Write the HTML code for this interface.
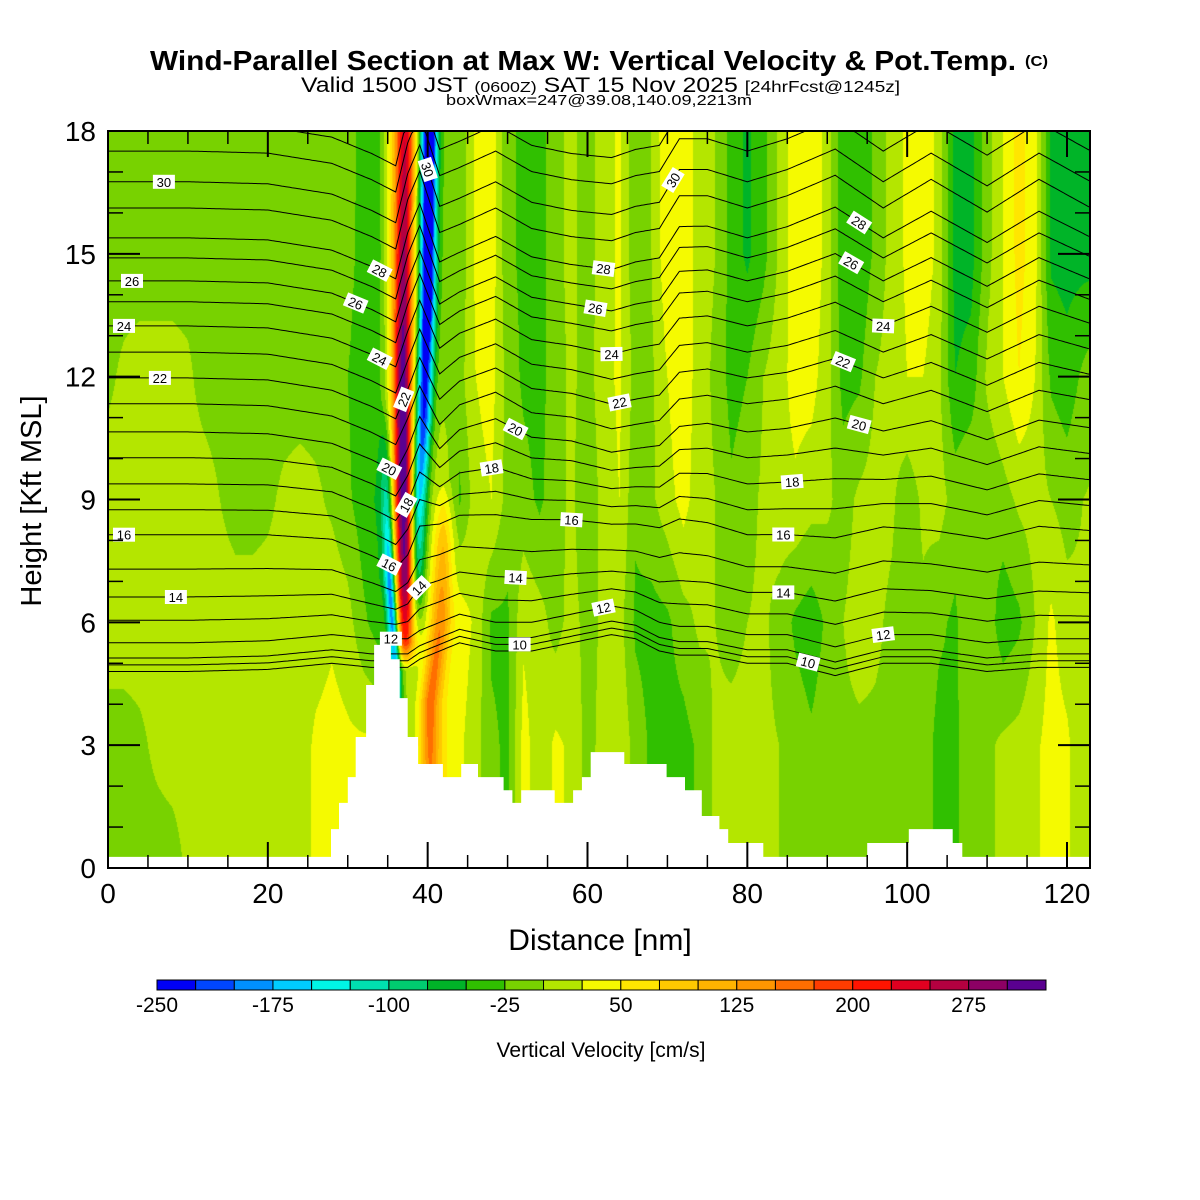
<!DOCTYPE html>
<html><head><meta charset="utf-8">
<style>
body{margin:0;background:#fff;}
#wrap{position:relative;width:1200px;height:1200px;overflow:hidden;background:#fff;font-family:"Liberation Sans",Arial,sans-serif;}
#field{position:absolute;left:108px;top:131px;}
#svg{position:absolute;left:0;top:0;}
</style></head>
<body>
<div id="wrap">
<canvas id="field" width="982" height="737"></canvas>
<svg id="svg" width="1200" height="1200" xmlns="http://www.w3.org/2000/svg">
  <g id="contours"></g>
  <g id="terrain"></g>
  <g id="clabels"></g>
  <g id="axes"></g>
  <g id="cbar"></g>
  <g font-family="Liberation Sans, Arial, sans-serif" font-weight="bold">
    <text x="150" y="70" font-size="28" textLength="866" lengthAdjust="spacingAndGlyphs">Wind-Parallel Section at Max W: Vertical Velocity &amp; Pot.Temp.</text>
    <text x="1025" y="66" font-size="15" textLength="23" lengthAdjust="spacingAndGlyphs">(C)</text>
    <text x="301" y="92" font-size="21" font-weight="normal" textLength="599" lengthAdjust="spacingAndGlyphs">Valid 1500 JST <tspan font-size="15">(0600Z)</tspan> SAT 15 Nov 2025 <tspan font-size="16">[24hrFcst@1245z]</tspan></text>
    <text x="446" y="105" font-size="15" font-weight="normal" textLength="306" lengthAdjust="spacingAndGlyphs">boxWmax=247@39.08,140.09,2213m</text>
  </g>
  <text x="600" y="950" font-size="30" text-anchor="middle">Distance [nm]</text>
  <text x="0" y="0" font-size="29" text-anchor="middle" transform="translate(41,501) rotate(-90)">Height [Kft MSL]</text>
  <text x="601" y="1057" font-size="21" text-anchor="middle">Vertical Velocity [cm/s]</text>
</svg>
</div>
<script>
// ---------------- data ----------------
const levelColors = ["#0000f5","#0046ff","#0090ff","#00ccff","#00f5e6","#00e0b0","#00cc70","#00b428","#30c000","#78d200","#b4e600","#f5fa00","#ffe600","#ffc800","#ffb400","#ff9600","#ff6e00","#ff3c00","#ff1400","#e00020","#b40040","#8c0064","#5a0090"];
const levelMin = -250, levelStep = 25;
const colorbarLabels = [-250,-175,-100,-25,50,125,200,275];

// w grid (cm/s): columns x = 0,2,...,124 nm ; rows at heights below (kft)
const gridHeights = [0,3,6,9,12,15,18];
const w0  = [-12,-12,-12,-12,-12,5,12,12,12,12,12,12,12,30,35,30,30,30,20,10,40,50,30,10,-20,-30,35,10,30,20,-10,10,20,-10,-30,-35,-35,-20,5,10,10,5,0,-10,-20,-10,-5,-5,-5,-5,-10,-10,-35,-30,-10,-5,5,10,20,35,30,5,5];
const w3  = [-10,-10,-5,5,12,12,12,12,12,12,12,12,12,30,35,30,30,30,20,10,40,50,30,10,-20,-30,35,10,30,20,-10,10,20,-10,-30,-35,-35,-20,5,10,10,5,0,-10,-20,-10,-5,-5,-5,-5,-10,-10,-35,-30,-10,-5,5,10,20,35,30,5,5];
const w6  = [12,12,12,12,12,12,12,12,12,12,12,12,12,12,20,10,-20,-40,0,0,30,40,40,20,-30,-30,20,10,-10,10,-10,5,10,-30,-35,-30,-10,5,0,-10,0,5,-10,-30,-40,-20,0,10,5,-5,-10,-5,-20,-30,0,-10,-40,-30,0,30,10,5,5];
const w9  = [12,12,12,12,12,12,12,0,-10,-10,-5,5,10,5,-5,-20,-40,-55,0,0,0,20,-30,15,25,-10,-15,-30,-10,5,-20,10,25,-20,-5,15,35,10,0,-20,-10,5,15,20,10,5,-10,5,10,5,-15,5,10,-10,0,-20,-10,5,10,0,-10,0,5];
const w12 = [-5,5,10,10,10,5,-10,-12,-12,-12,-12,-12,-12,-12,-12,-25,-40,-30,0,0,0,-10,-10,25,35,-10,-30,-35,-10,5,-10,15,30,-10,-5,25,45,10,-5,-35,-25,0,15,35,35,10,-35,-30,0,10,25,25,5,-50,-40,5,25,50,25,-30,-40,-20,-5];
const w15 = [-12,-12,-12,-12,-12,-12,-12,-12,-12,-12,-12,-12,-12,-12,-12,-15,-37,-37,0,0,0,-15,-20,30,40,-20,-30,-40,-5,5,-10,10,30,-20,0,45,50,10,0,-35,-55,-35,5,40,45,15,-45,-45,-20,10,30,45,15,-60,-60,-10,25,60,35,-55,-60,-60,-60];
const w18 = [-12,-12,-12,-12,-12,-12,-12,-12,-12,-12,-12,-12,-12,-12,-12,-12,-37,-37,0,0,0,-15,-20,30,40,-20,-30,-40,-5,5,-10,10,30,-20,0,50,50,10,0,-35,-55,-35,5,40,45,15,-45,-45,-20,10,30,45,15,-60,-60,-10,25,60,35,-55,-60,-60,-60];
const wRows = [w0,w3,w6,w9,w12,w15,w18];

// slanted wave features: [height kft, centre x nm, amplitude cm/s]
const redStripe    = [[4.8,37.2,0],[5.5,37.2,200],[7,37.2,300],[9,37.0,320],[11,36.9,320],[14,37.0,280],[18,37.2,240]];
const blueStripeR  = [[5.5,38.6,0],[7,38.7,-120],[9,38.9,-170],[11,39.5,-230],[14,40.0,-290],[18,40.2,-320]];
const blueStripeL  = [[4,36.2,-150],[5.5,35.8,-220],[7,35.3,-200],[8.5,35.0,-120],[10,34.8,-60],[11.5,34.8,0]];
const orangeLow    = [[1.5,40.3,0],[2.5,40.3,110],[4,40.3,130],[6,41.6,110],[8,41.9,70],[9.5,42.0,0]];
const yellowHalo   = [[5,35.9,0],[9,35.8,15],[14,35.6,40],[18,35.5,50]];
const features = [[redStripe,1.2],[blueStripeR,1.0],[blueStripeL,0.7],[orangeLow,1.2],[yellowHalo,1.2]];

// terrain steps: [start nm, height kft]
const terrain = [[0,0.27],[27.9,0.95],[28.9,1.59],[30.0,2.22],[31.0,3.2],[32.3,4.47],[33.3,5.45],[35.4,5.1],[36.5,4.15],[37.5,3.2],[38.8,2.54],[41.9,2.22],[44.2,2.54],[46.3,2.22],[49.5,1.9],[50.6,1.59],[51.7,1.9],[55.9,1.59],[58.2,1.9],[59.3,2.22],[60.4,2.83],[64.6,2.54],[69.9,2.22],[72.2,1.9],[74.3,1.27],[76.5,0.95],[77.6,0.61],[82.0,0.27],[95.0,0.61],[100.2,0.95],[105.7,0.61],[106.9,0.27]];

// theta contours: level values and their heights at x=0
const thetaLevels = [9,10,11,12,13,14,15,16,17,18,19,20,21,22,23,24,25,26,27,28,29,30,31,32];
const thetaBase   = [4.8,4.96,5.13,5.5,6.05,6.62,7.3,8.14,8.75,9.38,10.02,10.65,11.34,11.97,12.6,13.24,13.83,14.34,14.9,15.39,16.12,16.76,17.51,18.15];
const dispX  = [0,10,20,28,33,36,37.5,39,41.5,44,48.5,53,58,63,66,69,71.5,75,80,85,91,97,103,110,116.5,123];
const disp5  = [0,0,0.05,0.2,0.1,0.1,0.1,0.3,0.5,0.7,0.5,0.5,0.7,0.9,0.8,0.5,0.4,0.4,0.2,0.2,-0.1,0.2,0.2,0.0,0.1,0.1];
const disp8  = [0,0,0,-0.1,-0.5,-0.8,-0.5,0.2,0.3,0.5,0.5,0.4,0.4,0.3,0.3,0.2,0.4,0.3,0.0,0.0,-0.1,0.2,0.1,-0.1,0.2,0.1];
const disp11 = [0,0,-0.05,-0.3,-0.7,-1.0,-0.4,0.4,-0.5,0.0,0.3,-0.2,-0.3,-0.6,-0.5,-0.4,0.1,0.2,0.0,0.1,0.4,0.0,0.3,-0.2,0.3,0.1];
const disp16 = [0,0,-0.05,-0.3,-0.7,-1.0,0.2,0.9,-0.6,-0.4,0.0,-0.5,-0.7,-0.8,-0.6,-0.5,0.3,0.3,0.0,0.3,0.8,0.0,0.7,-0.1,0.7,0.0];
const dispRefH = [5.5,8,11,16];
// contour labels: [level, x nm]
const contourLabels = [[30,7],[26,3],[24,2],[22,6.5],[16,2],[14,8.5],[28,34],[26,31],[24,34],[22,37],[20,35.2],[18,37.3],[16,35.2],[14,38.9],[12,35.4],[30,40],[30,70.7],[28,62],[26,61],[24,63],[22,64],[20,51],[18,48],[16,58],[14,51],[12,62],[10,51.5],[28,94],[26,93],[24,97],[22,92],[20,94],[18,85.6],[16,84.5],[14,84.5],[12,97],[10,87.6]];
const xTicks = [0,20,40,60,80,100,120];
const yTicks = [0,3,6,9,12,15,18];

// ---------------- scales ----------------
const X = nm => 108 + nm*7.9917;
const Y = k => 868 - k*40.944;
const NS = "http://www.w3.org/2000/svg";
function mk(tag, attrs, parent){ const e=document.createElementNS(NS,tag); for(const k in attrs) e.setAttribute(k,attrs[k]); parent.appendChild(e); return e; }
function interp1(xa, ya, x){
  if(x<=xa[0]) return ya[0];
  for(let i=1;i<xa.length;i++){ if(x<=xa[i]){ const f=(x-xa[i-1])/(xa[i]-xa[i-1]); return ya[i-1]+f*(ya[i]-ya[i-1]); } }
  return ya[ya.length-1];
}
function gridW(nm,h){
  let c=nm/2; if(c<0)c=0; if(c>61.999)c=61.999; const c0=Math.floor(c), cf=c-c0;
  let r=h/3; if(r<0)r=0; if(r>5.999)r=5.999; const r0=Math.floor(r), rf=r-r0;
  const a=wRows[r0][c0]*(1-cf)+wRows[r0][c0+1]*cf;
  const b=wRows[r0+1][c0]*(1-cf)+wRows[r0+1][c0+1]*cf;
  return a*(1-rf)+b*rf;
}
function featureW(nm,h){
  let s=0;
  for(const [pts,hw] of features){
    if(h<pts[0][0]||h>pts[pts.length-1][0]) continue;
    const hs=pts.map(p=>p[0]);
    const xc=interp1(hs,pts.map(p=>p[1]),h), amp=interp1(hs,pts.map(p=>p[2]),h);
    const d=(nm-xc)/hw; s+=amp*Math.exp(-d*d);
  }
  return s;
}
function hex(c){return [parseInt(c.substr(1,2),16),parseInt(c.substr(3,2),16),parseInt(c.substr(5,2),16)];}
const rgb = levelColors.map(hex);

// ---------------- field ----------------
(function(){
  const cv=document.getElementById('field'), ctx=cv.getContext('2d');
  const W=cv.width,H=cv.height, im=ctx.createImageData(W,H);
  for(let py=0;py<H;py++){
    const h=18-(py+0.5)/40.944;
    for(let px=0;px<W;px++){
      const nm=(px+0.5)/7.9917;
      const w=gridW(nm,h)+featureW(nm,h);
      let k=Math.floor((w-levelMin)/levelStep); if(k<0)k=0; if(k>22)k=22;
      const c=rgb[k], o=(py*W+px)*4;
      im.data[o]=c[0]; im.data[o+1]=c[1]; im.data[o+2]=c[2]; im.data[o+3]=255;
    }
  }
  ctx.putImageData(im,0,0);
})();

// ---------------- contours ----------------
const dispArrs=[disp5,disp8,disp11,disp16];
function lineH(base,nm){
  const d=dispArrs.map(a=>interp1(dispX,a,nm));
  return base+interp1(dispRefH,d,base);
}
const gC=document.getElementById('contours');
thetaLevels.forEach((lv,i)=>{
  let d='';
  for(let nm=0;nm<=122.9;nm+=0.25){ const y=Math.max(131,Y(lineH(thetaBase[i],nm))); d+=(nm===0?'M':'L')+X(nm).toFixed(1)+','+y.toFixed(1); }
  const p=mk('path',{d:d,fill:'none',stroke:'#000','stroke-width':1},gC);
  
  
});

// ---------------- terrain ----------------
(function(){
  const g=document.getElementById('terrain');
  let d='M'+X(0)+','+Y(0);
  terrain.forEach((s,i)=>{ const x0=X(s[0]), x1=i<terrain.length-1?X(terrain[i+1][0]):1090; d+='L'+x0.toFixed(1)+','+Y(s[1]).toFixed(1)+'L'+x1.toFixed(1)+','+Y(s[1]).toFixed(1); });
  d+='L1090,'+Y(0)+'Z';
  const p=mk('path',{d:d,fill:'#fff',stroke:'none'},g);
  
  
})();

// ---------------- contour labels ----------------
(function(){
  const g=document.getElementById('clabels');
  contourLabels.forEach(([lv,nm])=>{
    const i=thetaLevels.indexOf(lv); if(i<0) return;
    const b=thetaBase[i];
    const x=X(nm), y=Y(lineH(b,nm));
    const dy=Y(lineH(b,nm+0.4))-Y(lineH(b,nm-0.4)), dx=X(nm+0.4)-X(nm-0.4);
    let ang=Math.atan2(dy,dx)*180/Math.PI;
    const gg=mk('g',{transform:'translate('+x.toFixed(1)+','+y.toFixed(1)+') rotate('+ang.toFixed(1)+')'},g);
    
    
    mk('rect',{x:-11,y:-7,width:22,height:14,fill:'#fff'},gg);
    const t=mk('text',{x:0,y:5,'font-size':13,'text-anchor':'middle','font-family':'Liberation Sans, Arial, sans-serif'},gg);
    t.textContent=lv;
  });
})();

// ---------------- axes ----------------
(function(){
  const g=document.getElementById('axes');
  const fr=mk('rect',{x:108,y:131,width:982,height:737,fill:'none',stroke:'#000','stroke-width':2},g);
  
  
  for(let v=0;v<=120;v+=5){
    const major=v%20===0, L=major?26:13, x=X(v);
    mk('line',{x1:x,y1:868,x2:x,y2:868-L,stroke:'#000','stroke-width':major?2:1.5},g);
    mk('line',{x1:x,y1:131,x2:x,y2:131+L,stroke:'#000','stroke-width':major?2:1.5},g);
  }
  for(let v=0;v<=18;v+=1){
    const major=v%3===0, L=major?32:15, y=Y(v);
    mk('line',{x1:108,y1:y,x2:108+L,y2:y,stroke:'#000','stroke-width':major?2:1.5},g);
    mk('line',{x1:1090,y1:y,x2:1090-L,y2:y,stroke:'#000','stroke-width':major?2:1.5},g);
  }
  xTicks.forEach(v=>{
    const t=mk('text',{x:X(v),y:903,'font-size':28,'text-anchor':'middle'},g);
    
    
    t.textContent=v;
  });
  yTicks.forEach(v=>{
    const t=mk('text',{x:96,y:Y(v)+10,'font-size':28,'text-anchor':'end'},g);
    
    
    t.textContent=v;
  });
})();

// ---------------- colorbar ----------------
(function(){
  const g=document.getElementById('cbar');
  const x0=157, bw=(1046-157)/levelColors.length;
  levelColors.forEach((c,i)=>{
    const r=mk('rect',{x:x0+i*bw,y:980,width:bw,height:10,fill:c,stroke:'#000','stroke-width':1},g);
    
    
  });
  colorbarLabels.forEach(v=>{
    const k=(v-levelMin)/levelStep;
    const t=mk('text',{x:x0+k*bw,y:1012,'font-size':21,'text-anchor':'middle'},g);
    
    
    t.textContent=v;
  });
})();
</script>
</body></html>
